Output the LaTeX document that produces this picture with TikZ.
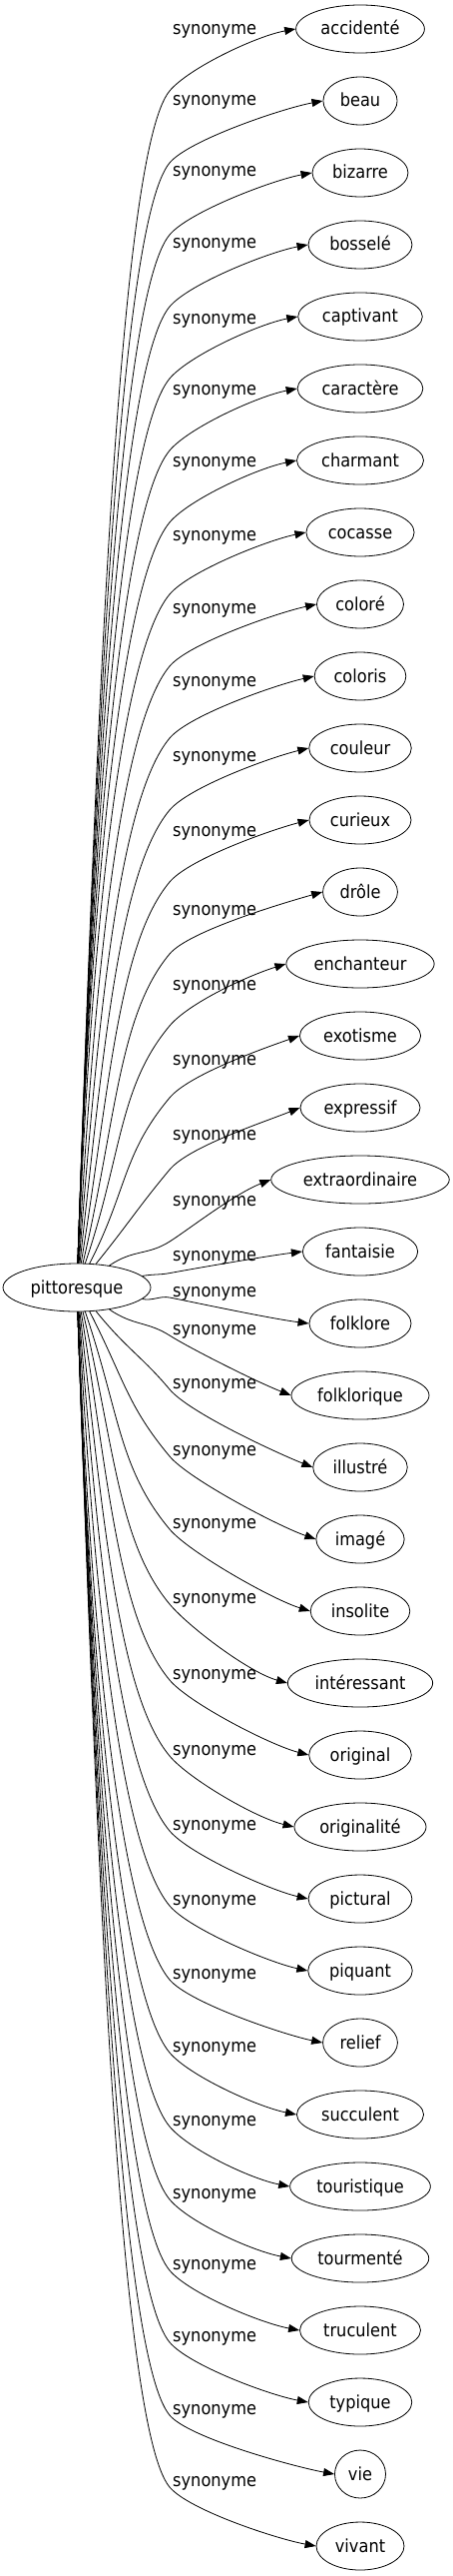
\documentclass[tikz,border=0pt]{standalone}
\usepackage{fontspec}
\setmainfont{DejaVu Sans}[FakeStretch=0.9]
\usetikzlibrary{shapes.geometric,arrows.meta}
\tikzset{
  term/.style={ellipse, draw=black, line width=0.8pt, inner xsep=6pt,
               inner ysep=2pt, minimum height=48pt, text height=14pt,
               text depth=2pt, font=\fontsize{18}{20}\selectfont},
  syn/.style={-{Triangle[length=11pt,width=8pt]}, line width=0.8pt, black},
  synlabel/.style={anchor=base west, inner sep=0pt,
                   font=\fontsize{18}{20}\selectfont},
}

\begin{document}
\begin{tikzpicture}[x=1pt, y=-1pt]

%% Canvas (pixel grid of the reference, y grows downwards)
\useasboundingbox (0,0) rectangle (453,2579);

%% Column positions
\def\xsrc{77}    % source word
\def\ysrc{1289}
\def\xmid{170}   % edges bend here
\def\xlab{173}   % edge labels
\def\xsyn{361}   % synonyms

%% Source word
\node[term] (pittoresque) at (\xsrc,\ysrc) {pittoresque};

%% Synonyms: index / word / label shift
\foreach \i/\w/\d in {0/accidenté/2, 1/beau/1, 2/bizarre/0, 3/bosselé/0,
    4/captivant/3, 5/caractère/2, 6/charmant/2, 7/cocasse/4, 8/coloré/5,
    9/coloris/6, 10/couleur/9, 11/curieux/12, 12/drôle/19,
    13/enchanteur/22, 14/exotisme/25, 15/expressif/28,
    16/extraordinaire/22, 17/fantaisie/5, 18/folklore/-31,
    19/folklorique/-65, 20/illustré/-83, 21/imagé/-88, 22/insolite/-87,
    23/intéressant/-84, 24/original/-80, 25/originalité/-76,
    26/pictural/-73, 27/piquant/-70, 28/relief/-68, 29/succulent/-67,
    30/touristique/-65, 31/tourmenté/-64, 32/truculent/-65,
    33/typique/-65, 34/vie/-64, 35/vivant/-64}{
  \pgfmathsetmacro\yT{29+72*\i}
  \pgfmathsetmacro\nn{abs(\yT-\ysrc)}
  \pgfmathsetmacro\sg{\yT<\ysrc ? 1 : -1}
  \pgfmathsetmacro\yM{\sg>0 ? \yT+min(62,0.6*\nn) : \yT+\d+5}
  \pgfmathsetmacro\bAng{min(88,90-80*exp(-(\nn-36)/200))}
  \pgfmathtruncatemacro\bA{\sg*\bAng}
  \pgfmathsetmacro\aAng{min(50,0.3*\nn)}
  \pgfmathsetmacro\eAng{min(0.2*\nn,10+15*exp(-(\nn-108)/300))}
  \pgfmathsetmacro\rr{1/sqrt((cos(\bAng)/73)^2+(sin(\bAng)/24)^2)}
  \pgfmathsetmacro\dd{veclen(\xmid-\xsrc-\rr*cos(\bAng),\yM-\ysrc+\sg*\rr*sin(\bAng))}
  \pgfmathsetmacro\lOne{0.45*\dd}
  \pgfmathsetmacro\rTwo{min(80,0.4*\dd)}
  \pgfmathsetmacro\rThree{10+0.4*\aAng}
  \node[term] (syn\i) at (\xsyn,\yT) {\w};
  \coordinate (bend\i) at (\xmid,\yM);
  \draw[syn] (pittoresque.\bA)
      .. controls +({\lOne*cos(\bAng)},{-\sg*\lOne*sin(\bAng)})
             and +({-\rTwo*cos(\aAng)},{\sg*\rTwo*sin(\aAng)}) .. (bend\i)
      .. controls +({\rThree*cos(\aAng)},{-\sg*\rThree*sin(\aAng)})
             and +({-40*cos(\eAng)},{\sg*40*sin(\eAng)}) .. (syn\i.west);
  \node[synlabel] (lab\i) at (\xlab,{\yT+\d+4}) {synonyme};
}

\end{tikzpicture}
\end{document}
